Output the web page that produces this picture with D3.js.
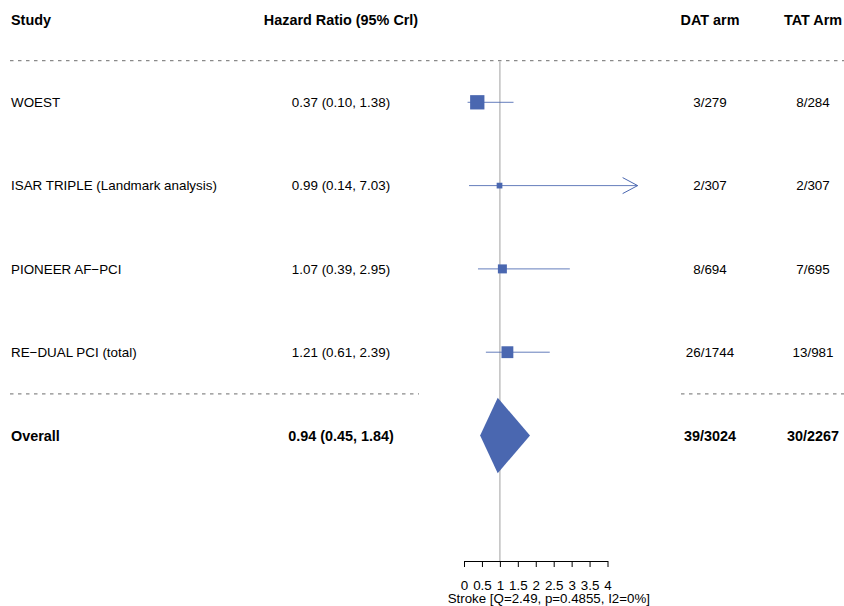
<!DOCTYPE html>
<html>
<head>
<meta charset="utf-8">
<script src="https://cdn.jsdelivr.net/npm/d3@7"></script>
<style>
  html, body { margin: 0; padding: 0; background: #fff; }
  svg { display: block; font-family: "Liberation Sans", Arial, Helvetica, sans-serif; }
</style>
</head>
<body>
<svg id="chart" width="844" height="606"></svg>
<script>
// ---- data ----
const studies = ["WOEST", "ISAR TRIPLE (Landmark analysis)", "PIONEER AF\u2212PCI", "RE\u2212DUAL PCI (total)"];
const hr      = [0.37, 0.99, 1.07, 1.21];
const lower   = [0.10, 0.14, 0.39, 0.61];
const upper   = [1.38, 7.03, 2.95, 2.39];
const weights = [35, 14, 22, 29];
const datArm  = ["3/279", "2/307", "8/694", "26/1744"];
const tatArm  = ["8/284", "2/307", "7/695", "13/981"];
const overallLabel = "Overall";
const overall = { hr: 0.94, lower: 0.45, upper: 1.84, dat: "39/3024", tat: "30/2267" };
const headers = ["Study", "Hazard Ratio (95% Crl)", "DAT arm", "TAT Arm"];
const xTicks  = [0, 0.5, 1, 1.5, 2, 2.5, 3, 3.5, 4];
const xTickLabels = ["0", "0.5", "1", "1.5", "2", "2.5", "3", "3.5", "4"];
const xLimits = [0, 4.84];
const xTitle  = "Stroke [Q=2.49, p=0.4855, I2=0%]";

// ---- layout ----
const svg = d3.select("#chart");
const blue = "#4a67b0";
const fmt = d3.format(".2f");
const ciText = (m, l, u) => `${fmt(m)} (${fmt(l)}, ${fmt(u)})`;

const x = d3.scaleLinear().domain([0, 4]).range([464, 607.5]);
const rowIdx = d3.range(studies.length + 2); // header, studies, overall
const y = d3.scalePoint().domain(rowIdx).range([19, 435.5]);
const size = d3.scaleLinear().domain([0, 35]).range([0, 14.3]);

const colStudy = 11, colHR = 341, colDAT = 710, colTAT = 813;
const fsReg = 13.4, fsBold = 14.4;

// header
const hdr = svg.append("g").attr("font-weight", "bold").attr("font-size", fsBold);
[[colStudy, "start"], [colHR, "middle"], [colDAT, "middle"], [colTAT, "middle"]].forEach((c, i) => {
  hdr.append("text").attr("x", c[0]).attr("y", y(0) + 1).attr("dy", "0.35em")
    .attr("text-anchor", c[1]).text(headers[i]);
});

// dashed separators
const yTopLine = (y(0) + y(1)) / 2;
const yBotLine = (y(studies.length) + y(studies.length + 1)) / 2;
const dashed = (x1, x2, yy) => svg.append("line").attr("x1", x1).attr("x2", x2)
  .attr("y1", yy).attr("y2", yy).attr("stroke", "#8a8a8a").attr("stroke-width", 1.1)
  .attr("stroke-dasharray", "3.5,4.5");
dashed(10, 844, yTopLine);
dashed(10, 419, yBotLine);
dashed(681, 844, yBotLine);

// reference line at 1
const axisY = 561;
svg.append("line").attr("x1", x(1)).attr("x2", x(1)).attr("y1", yTopLine + 0.5).attr("y2", axisY)
  .attr("stroke", "#c4c4c4").attr("stroke-width", 1.6);

// study rows
const xMax = x(xLimits[1]), xMin = x(xLimits[0]);
studies.forEach((s, i) => {
  const yy = y(i + 1);
  const g = svg.append("g");
  g.append("text").attr("x", colStudy).attr("y", yy).attr("dy", "0.35em").attr("font-size", fsReg).text(s);
  g.append("text").attr("x", colHR).attr("y", yy).attr("dy", "0.35em").attr("font-size", fsReg)
    .attr("text-anchor", "middle").text(ciText(hr[i], lower[i], upper[i]));
  g.append("text").attr("x", colDAT).attr("y", yy).attr("dy", "0.35em").attr("font-size", fsReg)
    .attr("text-anchor", "middle").text(datArm[i]);
  g.append("text").attr("x", colTAT).attr("y", yy).attr("dy", "0.35em").attr("font-size", fsReg)
    .attr("text-anchor", "middle").text(tatArm[i]);
  const x1 = Math.max(x(lower[i]), xMin), x2 = Math.min(x(upper[i]), xMax);
  g.append("line").attr("x1", x1).attr("x2", x2).attr("y1", yy).attr("y2", yy)
    .attr("stroke", blue).attr("stroke-width", 1).attr("stroke-opacity", 0.85);
  if (x(upper[i]) > xMax) {
    g.append("path").attr("d", `M${x2 - 15},${yy - 8}L${x2},${yy}L${x2 - 15},${yy + 8}`)
      .attr("fill", "none").attr("stroke", blue).attr("stroke-width", 1);
  }
  const sz = size(weights[i]);
  g.append("rect").attr("x", x(hr[i]) - sz / 2).attr("y", yy - sz / 2)
    .attr("width", sz).attr("height", sz).attr("fill", blue);
});

// overall row
const yo = y(studies.length + 1);
const og = svg.append("g").attr("font-weight", "bold").attr("font-size", fsBold);
og.append("text").attr("x", colStudy).attr("y", yo).attr("dy", "0.35em").text(overallLabel);
og.append("text").attr("x", colHR).attr("y", yo).attr("dy", "0.35em").attr("text-anchor", "middle")
  .text(ciText(overall.hr, overall.lower, overall.upper));
og.append("text").attr("x", colDAT).attr("y", yo).attr("dy", "0.35em").attr("text-anchor", "middle").text(overall.dat);
og.append("text").attr("x", colTAT).attr("y", yo).attr("dy", "0.35em").attr("text-anchor", "middle").text(overall.tat);
const dh = 37.7;
svg.append("path")
  .attr("d", `M${x(overall.lower)},${yo}L${x(overall.hr)},${yo - dh}L${x(overall.upper)},${yo}L${x(overall.hr)},${yo + dh}Z`)
  .attr("fill", blue);

// axis
const axis = d3.axisBottom(x).tickValues(xTicks).tickFormat((d, i) => xTickLabels[i])
  .tickSize(6).tickSizeOuter(0).tickPadding(13);
const ag = svg.append("g").attr("transform", `translate(0,${axisY})`).call(axis);
ag.select(".domain").attr("stroke", "#000").attr("stroke-width", 1);
ag.selectAll(".tick line").attr("stroke", "#000").attr("stroke-width", 1);
ag.selectAll(".tick text").attr("font-size", 13.4).attr("font-family", "Liberation Sans, Arial, sans-serif").attr("fill", "#000");

svg.append("text").attr("x", (xMin + xMax) / 2 - 2).attr("y", 603.3).attr("text-anchor", "middle")
  .attr("font-size", 13.3).text(xTitle);
</script>
</body>
</html>
